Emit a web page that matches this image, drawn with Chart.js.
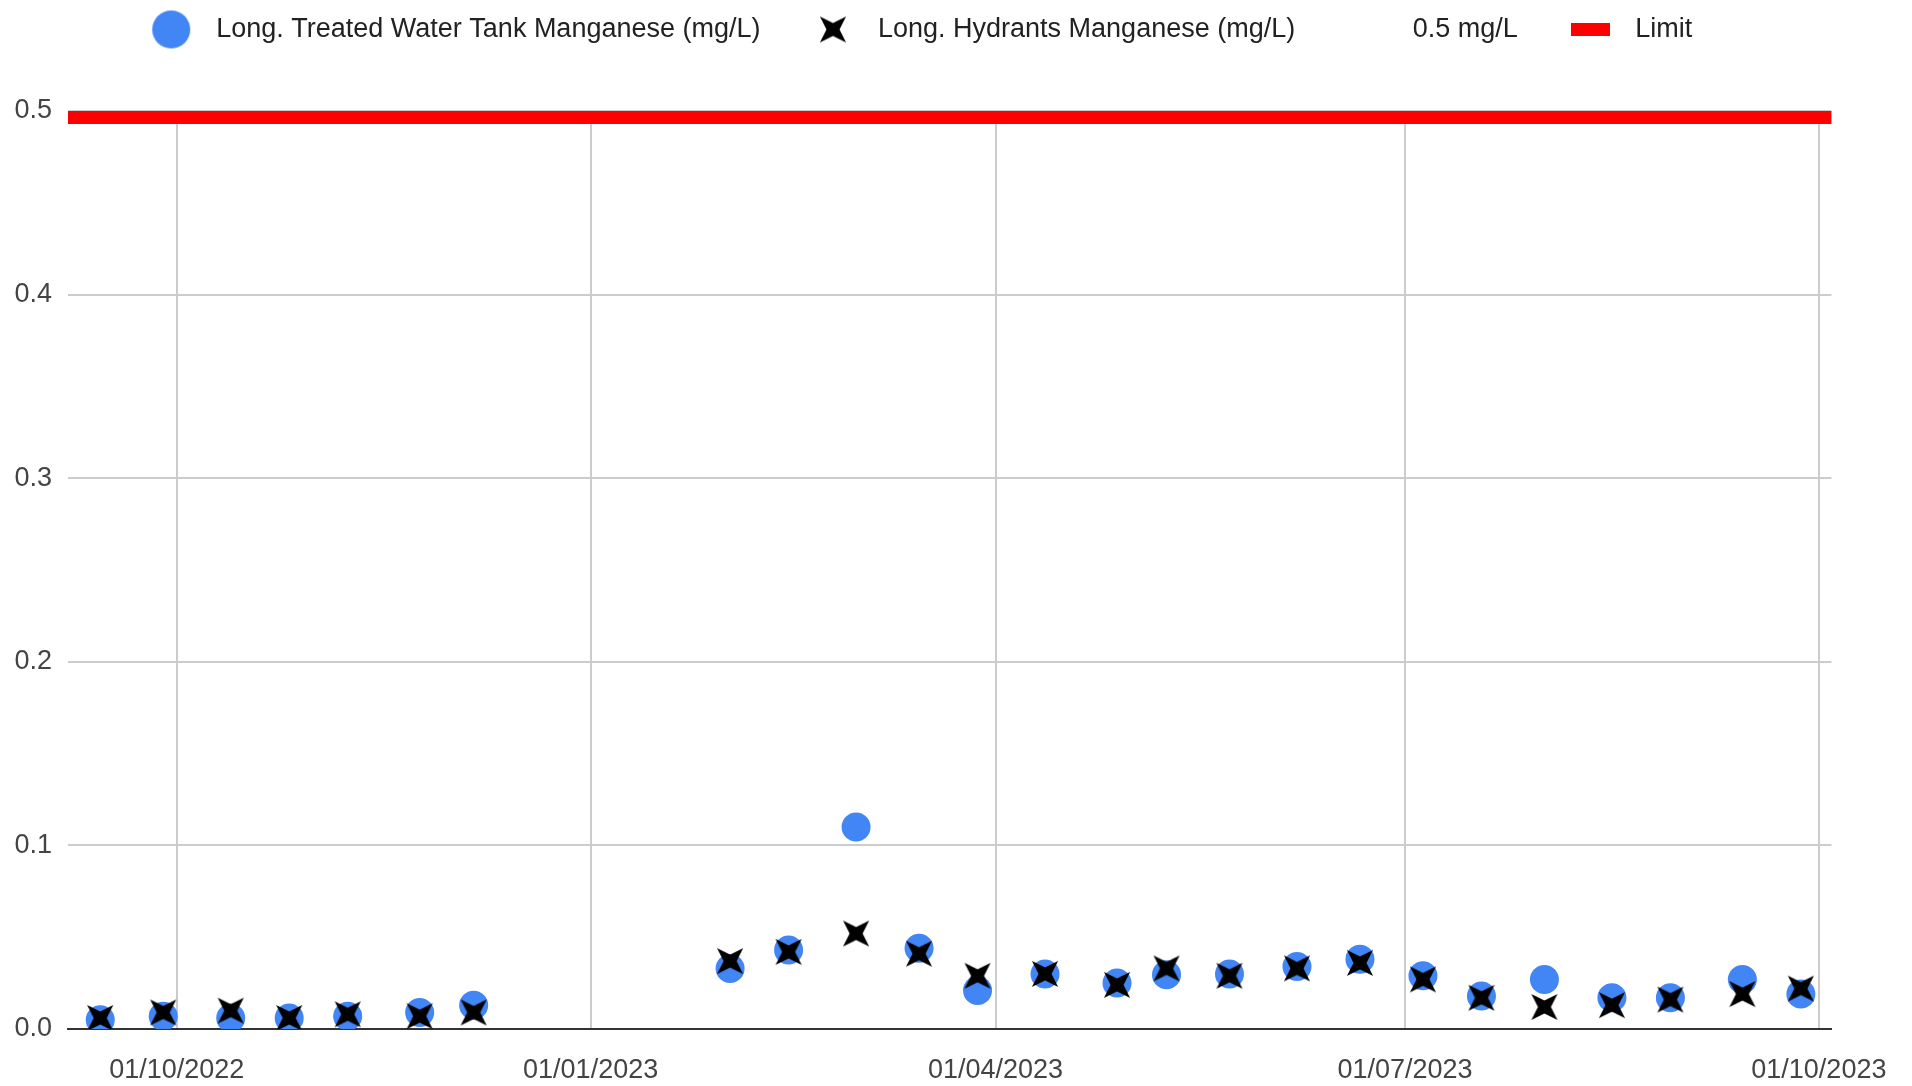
<!DOCTYPE html>
<html>
<head>
<meta charset="utf-8">
<script src="https://cdn.jsdelivr.net/npm/chart.js@4.4.1/dist/chart.umd.min.js"></script>
<style>
  html, body { margin: 0; padding: 0; background: #ffffff; }
  #wrap { position: relative; width: 1912px; height: 1086px; }
</style>
</head>
<body>
<div id="wrap"><canvas id="c"></canvas></div>
<script>
// ---------------- data ----------------
const sampleDates = [
  '2022-09-14', '2022-09-28', '2022-10-13', '2022-10-26', '2022-11-08', '2022-11-24', '2022-12-06',
  '2023-02-01', '2023-02-14', '2023-03-01', '2023-03-15', '2023-03-28', '2023-04-12', '2023-04-28',
  '2023-05-09', '2023-05-23', '2023-06-07', '2023-06-21', '2023-07-05', '2023-07-18', '2023-08-01',
  '2023-08-16', '2023-08-29', '2023-09-14', '2023-09-27'
];
const treatedTankMn = [
  0.005, 0.007, 0.006, 0.006, 0.007, 0.009, 0.013,
  0.033, 0.043, 0.110, 0.044, 0.021, 0.030, 0.025,
  0.0295, 0.030, 0.034, 0.038, 0.029, 0.018, 0.027,
  0.017, 0.017, 0.027, 0.019
];
const hydrantsMn = [
  0.006, 0.009, 0.010, 0.006, 0.008, 0.007, 0.009,
  0.037, 0.042, 0.052, 0.041, 0.029, 0.030, 0.024,
  0.033, 0.029, 0.033, 0.036, 0.027, 0.017, 0.012,
  0.013, 0.016, 0.019, 0.022
];
const limitValue = 0.5;
const seriesNames = [
  'Long. Treated Water Tank Manganese (mg/L)',
  'Long. Hydrants Manganese (mg/L)',
  '0.5 mg/L',
  'Limit'
];
const xTickDates = ['2022-10-01', '2023-01-01', '2023-04-01', '2023-07-01', '2023-10-01'];
const xTickLabels = ['01/10/2022', '01/01/2023', '01/04/2023', '01/07/2023', '01/10/2023'];
const xRange = ['2022-09-06T20:00:00Z', '2023-10-03T19:00:00Z'];
const yRange = [0, 0.5];
const yStep = 0.1;

// ---------------- helpers ----------------
function ms(s) { return Date.parse(s.length === 10 ? s + 'T00:00:00Z' : s); }
const xMin = ms(xRange[0]);
const xMax = ms(xRange[1]);

function makeStar(R, r, color) {
  const size = Math.ceil(R * 1.5) + 4;
  const c = document.createElement('canvas');
  c.width = size; c.height = size;
  const g = c.getContext('2d');
  g.translate(size / 2, size / 2);
  g.beginPath();
  for (let k = 0; k < 8; k++) {
    const a = Math.PI / 4 + k * Math.PI / 4;
    const rad = (k % 2 === 0) ? R : r;
    g.lineTo(rad * Math.cos(a), rad * Math.sin(a));
  }
  g.closePath();
  g.fillStyle = color;
  g.fill();
  return c;
}
function makeCircle(r, color) {
  const size = Math.ceil(r * 2) + 2;
  const c = document.createElement('canvas');
  c.width = size; c.height = size;
  const g = c.getContext('2d');
  g.beginPath();
  g.arc(size / 2, size / 2, r, 0, Math.PI * 2);
  g.fillStyle = color;
  g.fill();
  return c;
}
function makeRect(w, h, color) {
  const c = document.createElement('canvas');
  c.width = w; c.height = h;
  const g = c.getContext('2d');
  g.fillStyle = color;
  g.fillRect(0, 0, w, h);
  return c;
}
function makeBlank() {
  const c = document.createElement('canvas');
  c.width = 1; c.height = 1;
  return c;
}

const BLUE = '#4285f4';
const starPoint = makeStar(18.5, 6.5, '#000000');
const legendIcons = [makeCircle(19, BLUE), makeStar(18.5, 6.5, '#000000'), makeBlank(), makeRect(39, 13, '#ff0000')];

Chart.defaults.font.family = '"Liberation Sans", Arial, sans-serif';
Chart.defaults.font.size = 27;
Chart.defaults.color = '#444444';

const legendOffset = { x: 0, y: -58 };

const legendNudge = {
  id: 'legendNudge',
  afterLayout(chart) {
    const l = chart.legend;
    if (!l) return;
    l.top += legendOffset.y; l.bottom += legendOffset.y;
    l.left += legendOffset.x; l.right += legendOffset.x;
  }
};
const limitBand = {
  id: 'limitBand',
  beforeDatasetDraw(chart, args) {
    if (args.index === 3) {
      chart.ctx.save();
      chart.ctx.translate(0, chart.data.datasets[3].borderWidth / 2);
    }
  },
  afterDatasetDraw(chart, args) {
    if (args.index === 3) chart.ctx.restore();
  }
};

new Chart(document.getElementById('c'), {
  type: 'scatter',
  data: {
    datasets: [
      {
        label: seriesNames[0],
        data: sampleDates.map((d, i) => ({ x: ms(d), y: treatedTankMn[i] })),
        pointStyle: 'circle',
        pointRadius: 14.5,
        pointHoverRadius: 14.5,
        backgroundColor: BLUE,
        borderWidth: 0,
        order: 2
      },
      {
        label: seriesNames[1],
        data: sampleDates.map((d, i) => ({ x: ms(d), y: hydrantsMn[i] })),
        pointStyle: starPoint,
        pointRadius: 13,
        backgroundColor: '#000000',
        borderWidth: 0,
        order: 1
      },
      {
        label: seriesNames[2],
        data: [],
        pointRadius: 0,
        order: 3
      },
      {
        label: seriesNames[3],
        type: 'line',
        data: [{ x: xMin, y: limitValue }, { x: xMax, y: limitValue }],
        showLine: true,
        borderColor: '#ff0000',
        backgroundColor: '#ff0000',
        borderWidth: 13,
        pointRadius: 0,
        fill: false,
        clip: false,
        order: 4
      }
    ]
  },
  options: {
    responsive: true,
    maintainAspectRatio: false,
    animation: false,
    layout: { padding: { top: 33, right: 80, bottom: 0, left: 0 } },
    plugins: {
      tooltip: { enabled: false },
      legend: {
        position: 'top',
        align: 'center',
        labels: {
          usePointStyle: true,
          pointStyleWidth: 63,
          padding: 41,
          color: '#222222',
          font: { size: 27 },
          generateLabels: (chart) => chart.data.datasets.map((ds, i) => ({
            text: ds.label,
            pointStyle: legendIcons[i],
            fillStyle: 'rgba(0,0,0,0)',
            strokeStyle: 'rgba(0,0,0,0)',
            lineWidth: 0,
            hidden: false,
            datasetIndex: i,
            fontColor: '#222222'
          }))
        }
      }
    },
    scales: {
      x: {
        type: 'linear',
        min: xMin,
        max: xMax,
        afterBuildTicks: (s) => { s.ticks = xTickDates.map(d => ({ value: ms(d) })); },
        afterFit: (s) => { s.height = 57; },
        ticks: {
          callback: (v, i) => xTickLabels[i],
          color: '#444444',
          padding: 25,
          maxRotation: 0,
          autoSkip: false
        },
        grid: { color: '#cccccc', lineWidth: 2, drawTicks: false },
        border: { color: '#333333', width: 2 }
      },
      y: {
        min: yRange[0],
        max: yRange[1],
        afterFit: (s) => { s.width = 68; },
        ticks: {
          stepSize: yStep,
          callback: (v) => Number(v).toFixed(1),
          padding: 16,
          color: '#444444'
        },
        grid: {
          color: (ctx) => (ctx.tick && ctx.tick.value === 0) ? '#333333' : '#cccccc',
          lineWidth: 2,
          drawTicks: false
        },
        border: { display: false }
      }
    }
  },
  plugins: [legendNudge, limitBand]
});
</script>
</body>
</html>
